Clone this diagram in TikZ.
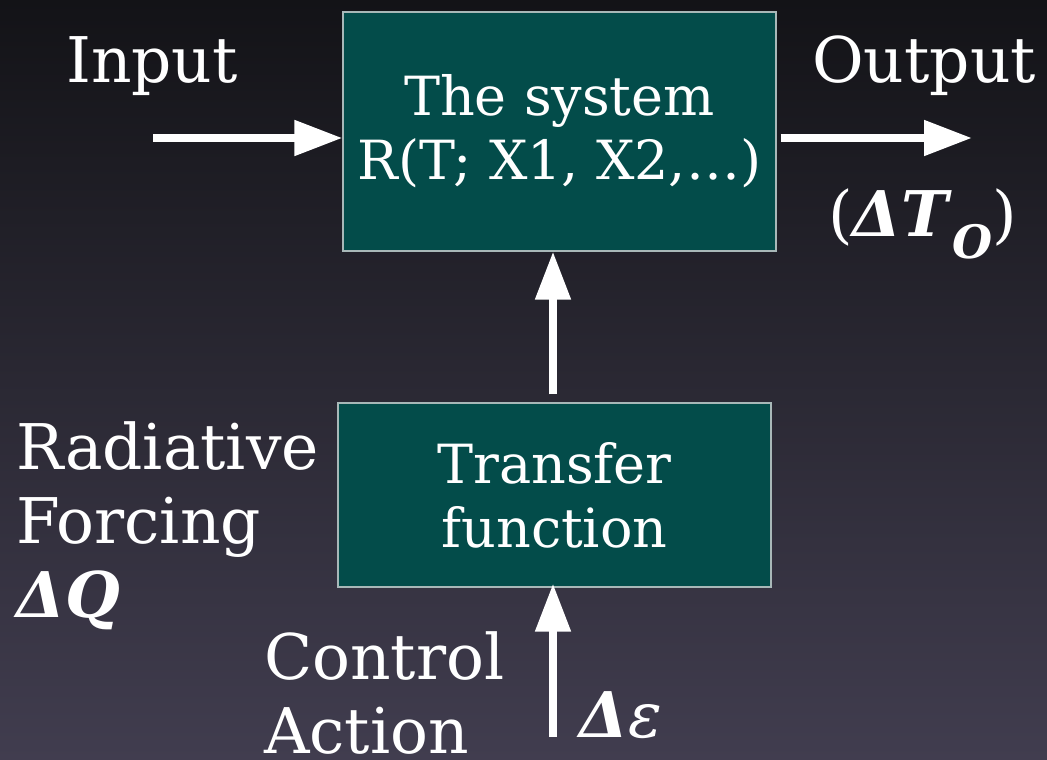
\documentclass[tikz,border=0pt]{standalone}
\usepackage{fontspec}
\setmainfont{DejaVu Serif}
\usetikzlibrary{arrows.meta}
\definecolor{bgtop}{HTML}{131317}
\definecolor{bgbot}{HTML}{413D4F}
\definecolor{boxfill}{HTML}{034C4A}
\definecolor{boxline}{HTML}{A8B8B8}
\tikzset{
  block/.style={draw=boxline, line width=1.2pt, fill=boxfill, text=white,
    align=center, inner sep=0pt, font=\fontsize{54}{64}\selectfont},
  label/.style={text=white, align=left, inner sep=0pt, anchor=base west,
    font=\fontsize{63}{74}\selectfont},
  flow/.style={draw=white, line width=8pt,
    -{Triangle[length=48pt,width=34pt]}},
}
\begin{document}
\begin{tikzpicture}[x=1pt,y=-1pt]
  \shade[top color=bgtop, bottom color=bgbot] (0,0) rectangle (1047,760);
  \useasboundingbox (0,0) rectangle (1047,760);

  % blocks
  \node[block, minimum width=433pt, minimum height=239pt] (sys) at (559.5,131.5)
    {The system\\R(T; X1, X2,\dots)};
  \node[block, minimum width=433pt, minimum height=184pt] (tf) at (554.5,495)
    {Transfer\\function};

  % free ends of the arrows
  \coordinate (in) at (153,138);
  \coordinate (out) at (972,138);
  \coordinate (ctrl) at (553,737);
  \path (sys.east |- out) ++(4,0) coordinate (outstart);
  \path (tf.north -| ctrl) ++(0,-8) coordinate (tfout);

  \draw[flow] (in) -- (sys.west |- in);
  \draw[flow] (outstart) -- (out);
  \draw[flow] (tfout) -- (sys.south -| ctrl);
  \draw[flow] (ctrl) -- ([yshift=4pt]tf.south -| ctrl);

  % labels (base anchor of a multi-line label sits on its last line)
  \node[label] (lin) at (66,83) {Input};
  \node[label] (lout) at (812,83) {Output};
  \node[label] (lto) at (828,236)
    {(\textbf{\textit{ΔT}}\raisebox{-22pt}{\fontsize{46}{50}\selectfont\textbf{\textit{O}}})};
  \node[label] (lrf) at (16,617)
    {Radiative\\Forcing\\\textbf{\textit{ΔQ}}};
  \node[label] (lca) at (264,753)
    {Control\\Action};
  \node[label] (leps) at (579,737) {\textbf{\textit{Δ}}\textit{ε}};
\end{tikzpicture}
\end{document}
